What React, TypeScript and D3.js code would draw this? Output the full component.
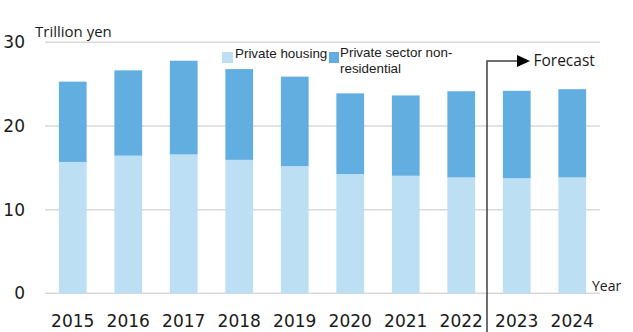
import React from "react";
import * as d3 from "d3";

const years = ["2015", "2016", "2017", "2018", "2019", "2020", "2021", "2022", "2023", "2024"];
const housing = [15.7, 16.45, 16.6, 15.95, 15.2, 14.25, 14.05, 13.85, 13.75, 13.85];
const totals = [25.3, 26.65, 27.8, 26.8, 25.9, 23.9, 23.65, 24.15, 24.2, 24.4];
const nonResidential = totals.map((t, i) => +(t - housing[i]).toFixed(2));
const yTicks = [0, 10, 20, 30];
const seriesNames = ["Private housing", "Private sector non-residential"];

const W = 633;
const H = 332;
const LIGHT = "#bddff3";
const DARK = "#62aee1";

export default function App() {
  const x = d3.scaleBand<string>().domain(years).range([45, 600]).paddingInner(0.5).paddingOuter(0.25);
  const y = d3.scaleLinear().domain([0, 30]).range([293.3, 42.3]);
  const bw = x.bandwidth();
  const forecastX = ((x("2022") as number) + bw + (x("2023") as number)) / 2 - 2;
  const sansNum = "'DejaVu Sans', Verdana, sans-serif";
  const txt = "'Open Sans', 'Noto Sans', sans-serif";
  const leg = "'Liberation Sans', Arial, sans-serif";

  return (
    <svg width={W} height={H} style={{ position: "absolute", left: 0, top: 0, background: "#fff" }}>
      {yTicks.map((t) => (
        <g key={t}>
          <line x1={45} x2={600} y1={y(t)} y2={y(t)} stroke="#d9d9d9" strokeWidth={1.5} />
          <text x={25} y={y(t) + 6} textAnchor="end" fontFamily={sansNum} fontSize={17} fill="#1a1a1a">
            {t}
          </text>
        </g>
      ))}
      {years.map((yr, i) => (
        <g key={yr}>
          <rect x={x(yr)} y={y(housing[i])} width={bw} height={y(0) - y(housing[i])} fill={LIGHT} />
          <rect
            x={x(yr)}
            y={y(housing[i] + nonResidential[i])}
            width={bw}
            height={y(housing[i]) - y(housing[i] + nonResidential[i])}
            fill={DARK}
          />
          <text
            x={(x(yr) as number) + bw / 2}
            y={327}
            textAnchor="middle"
            fontFamily={sansNum}
            fontSize={17}
            fill="#1a1a1a"
          >
            {yr}
          </text>
        </g>
      ))}
      <text x={35} y={37} fontFamily={txt} fontSize={15} fill="#1a1a1a">Trillion yen</text>
      <text x={592} y={291} fontFamily={txt} fontSize={14} fill="#1a1a1a">Year</text>
      {/* legend */}
      <rect x={222} y={52} width={11} height={11} fill={LIGHT} />
      <text x={235} y={57.5} fontFamily={leg} fontSize={13.4} fill="#1a1a1a">{seriesNames[0]}</text>
      <rect x={329} y={52} width={10} height={11} fill={DARK} />
      <text x={340} y={57} fontFamily={leg} fontSize={13.4} fill="#1a1a1a">
        <tspan x={340}>Private sector non-</tspan>
        <tspan x={340} dy={15.5}>residential</tspan>
      </text>
      {/* forecast marker */}
      <path d={`M${forecastX},${H} V61 H518`} fill="none" stroke="#404040" strokeWidth={1.5} />
      <path d="M517,55 L530,61 L517,67 Z" fill="#000" />
      <text x={533.5} y={66} fontFamily={txt} fontSize={15.5} fill="#1a1a1a">Forecast</text>
    </svg>
  );
}
